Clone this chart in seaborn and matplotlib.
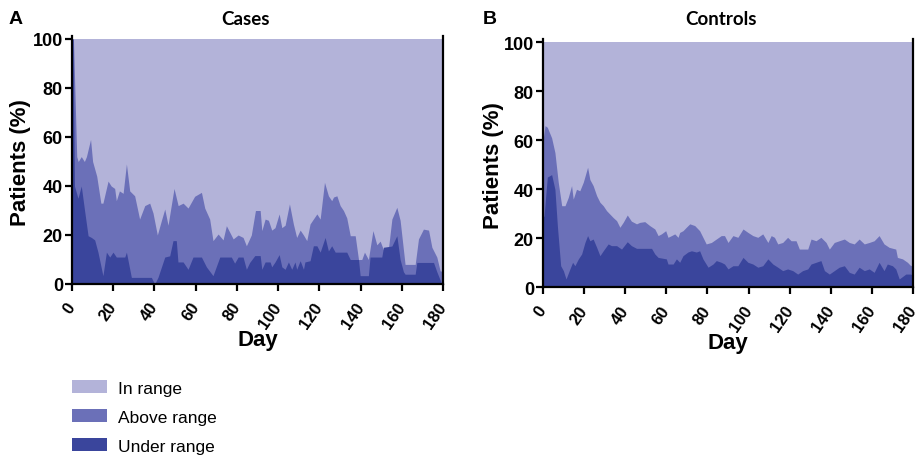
import matplotlib
matplotlib.use("Agg")
import matplotlib.pyplot as plt
import matplotlib.transforms as mtransforms
from matplotlib.patches import Patch
import seaborn as sns

sns.set_theme(style="ticks")
plt.rcParams['font.family'] = ['Liberation Sans', 'DejaVu Sans']
plt.rcParams['text.color'] = 'black'
plt.rcParams['axes.labelcolor'] = 'black'
plt.rcParams['xtick.color'] = 'black'
plt.rcParams['ytick.color'] = 'black'
plt.rcParams['xtick.labelcolor'] = 'black'
plt.rcParams['ytick.labelcolor'] = 'black'

# ---------------- data (percent of patients) ----------------
# Cases: upper edge of "Above range" band (= above + under)
cases_total_day = [0, 0.7, 2.3, 3, 4.5, 6, 7, 9, 10, 12, 14, 15, 17.5, 19, 20.7, 21.5, 23, 24.8,
                   26.4, 28, 30.4, 32.8, 35.3, 37.7, 39.3, 41.4, 43.4, 45, 46.6, 49.5, 51.5, 53.9,
                   56.3, 59.5, 62.8, 64.4, 66.8, 68.4, 70.9, 73.3, 74.9, 78.2, 80.6, 83, 84.6, 87,
                   88, 89, 91.3, 92.1, 93.7, 95.3, 96.9, 98.5, 100.5, 101.8, 103.4, 105.5, 107.4,
                   109, 110.7, 112.3, 113.9, 115.5, 117.1, 118.8, 120.4, 122.5, 124.4, 126, 126.9,
                   128.5, 130.1, 131.7, 133.3, 135, 137.4, 139, 140.6, 141.9, 143.8, 146, 147.9,
                   149.5, 151.1, 153.6, 155.2, 157.6, 159.2, 160.8, 161.6, 166.5, 168.1, 170.5,
                   173, 174.6, 177, 178.6, 180]
cases_total = [100, 100, 52, 50, 52, 50, 52, 59, 50, 44, 33, 33, 42, 40, 39, 34, 38, 37,
               49, 38, 36, 26.5, 32, 33, 29, 20, 26, 30.6, 24, 39, 32, 33,
               31, 35.8, 37.4, 31, 26.5, 17.7, 20.4, 18, 23.8, 18.4, 20, 19, 15.6, 20,
               25, 30, 30, 21.8, 26.5, 26, 22, 23, 28.6, 23, 24, 32.7, 24.5,
               19, 22, 20, 17.7, 24.5, 26.5, 28.6, 26.5, 41.5, 36, 34, 35.5,
               36, 32, 30, 27, 19.7, 19.7, 10, 10, 13, 10, 21.8, 16,
               17.5, 14, 15, 26.5, 31.3, 26, 14, 8, 8, 18.4, 22.4,
               22, 15, 11, 5.4, 5]
# Cases: "Under range"
cases_under_day = [0, 0.5, 1.2, 2.9, 4.5, 6.1, 7.8, 9.4, 11, 12.6, 15, 16.7, 18.3, 19.9, 21.5,
                   25.6, 26.4, 28.8, 38.5, 40.1, 41.7, 45, 47.4, 49, 50.6, 51.4, 53.9, 56.3, 58.7,
                   62.8, 65.2, 68.4, 71.7, 77.3, 78.9, 80.6, 83, 84.6, 86.2, 88.7, 91.3, 92.1,
                   93.7, 96.1, 96.9, 98.5, 100.5, 101.8, 103.4, 105, 106.6, 108.2, 109, 110.7,
                   112.3, 113, 115.5, 117.1, 118.8, 120.4, 122.8, 124.4, 126, 127.7, 133.3, 135,
                   139, 139.8, 143.8, 144.6, 150.3, 151.1, 155.2, 157.6, 159.2, 160.8, 161.6,
                   166.5, 167.3, 175.4, 177, 179.4, 180]
cases_under = [100, 100, 40, 35, 40, 30, 19.7, 19, 18, 13, 3.4, 13, 11, 13, 11,
               11, 13, 2.7, 2.7, 0, 2.7, 11, 11.5, 17.7, 17.7, 9, 9, 6, 11,
               11, 7, 3.4, 11, 11, 8.5, 11, 11, 6, 8.8, 11.6, 11.6, 6,
               9, 9, 7, 9, 12, 7, 6, 9, 6, 9, 6, 9.5,
               6, 9, 9.5, 15.6, 15.6, 13, 19, 13.5, 15.6, 13, 13, 10,
               10, 3.4, 3.4, 11, 11, 15, 15.5, 19.7, 10, 5, 4,
               4, 8.8, 8.8, 5, 0, 0]

# Controls: upper edge of "Above range" band
controls_total_day = [0, 1, 2.1, 4.2, 5.8, 7.4, 9.1, 10.7, 12.3, 13.9, 14.7, 16.3, 17.9, 19.6,
                      21.7, 22.8, 24.4, 26.1, 27.7, 29.3, 30.9, 32.5, 34.1, 35.8, 37.4, 39, 41,
                      43, 45.5, 47.1, 49.5, 51.9, 54.4, 56, 57.6, 59.7, 60.8, 62.5, 64.1, 65.7,
                      66.5, 68.1, 69.7, 71.4, 73.8, 76.2, 77.8, 79.4, 81.9, 84.3, 86.7, 88.3, 90,
                      92.4, 94.8, 97.3, 99.7, 102.1, 104.5, 106.9, 109.4, 111, 112.6, 114.2,
                      116.6, 119, 120.7, 123.1, 124.7, 128.8, 130.4, 132.8, 135.2, 137.7, 139.3,
                      141.7, 144.1, 146.6, 149, 151.4, 153.8, 156.3, 158.7, 161.1, 163.5, 165.9,
                      168.4, 171.6, 172.4, 174.9, 177.3, 178.9, 180]
controls_total = [60, 66, 65.3, 61, 55, 43, 33.3, 33.3, 36.7, 41.5, 36, 40, 39.4, 42.9,
                  49, 44, 41.5, 37.4, 34.7, 33.3, 31.3, 29.9, 28.5, 27.2, 24.5, 26.5, 29.5,
                  27, 25.9, 26.5, 26.8, 25.2, 23.8, 21.1, 21.8, 23.1, 20.4, 21.1, 21.8, 20.4,
                  22.4, 23.1, 24.5, 25.9, 25.2, 23.1, 20.4, 17.7, 18.3, 19.7, 21.1, 21.1, 18.3,
                  21.1, 20.4, 23.8, 22.4, 21.1, 20.4, 21.8, 18.3, 21.1, 20.4, 17.7,
                  18.3, 20.4, 19, 19, 15.6, 15.6, 19.7, 19, 20.4, 18.3, 15.6,
                  18.3, 19, 19.7, 18.3, 17.7, 19.7, 17.7, 18.3, 19, 21.1, 17.7,
                  16.3, 15.6, 12.2, 11.6, 10.2, 8.8, 9.5]
# Controls: "Under range"
controls_under_day = [0, 0.5, 2.1, 4.2, 5.8, 7, 8.6, 9.9, 11.2, 13.1, 14.4, 15.5, 17.2, 18.8,
                      20.4, 21.7, 22.8, 24.4, 26.1, 27.7, 29.3, 31.7, 33.3, 35.8, 38.2, 41, 43,
                      45.5, 52.8, 54.4, 56, 60, 60.8, 63.3, 64.9, 66.5, 68.1, 70.5, 72.2, 74.6,
                      76.2, 77.8, 80.3, 82.7, 84.3, 86.7, 88.3, 90, 92.4, 94.8, 97.3, 99.7, 102.1,
                      104.5, 106.9, 109.4, 111.8, 114.2, 116.6, 119, 121.5, 123.9, 126.3, 128.8,
                      130.4, 132.8, 135.2, 136.9, 139.3, 141.7, 144.1, 146.6, 149, 151.4, 153.8,
                      156.3, 158.7, 161.1, 163.5, 165.9, 167.5, 170, 171.6, 173.3, 176.5, 178.9,
                      180]
controls_under = [29, 29, 45, 46, 40, 25, 8.8, 6.8, 3.4, 7.5, 10.2, 8.8, 11.6, 13.6,
                  18.3, 21.1, 19, 19.7, 16.3, 12.9, 14.9, 17.7, 17, 17, 15.6, 18.6, 17,
                  15.9, 15.9, 13.6, 12.2, 11.6, 9.5, 9.5, 11.6, 10.2, 12.9, 14.4, 14.9, 14.4,
                  14.9, 11.6, 8.2, 9.5, 10.9, 10.2, 9.5, 7.5, 8.8, 8.8, 12.2, 10.2, 9.5,
                  8.2, 8.8, 11.6, 9.5, 8.2, 6.8, 7.5, 6.8, 5.4, 6.8, 7.5,
                  9.5, 10.2, 10.9, 6.8, 5.4, 6.8, 8.2, 8.8, 6.1, 5.4, 8.2,
                  6.8, 7.5, 6.1, 10.2, 6.8, 9.5, 8.8, 7.5, 3.4, 5.4, 5.4,
                  4.8]

x_ticks = [0, 20, 40, 60, 80, 100, 120, 140, 160, 180]
y_ticks = [0, 20, 40, 60, 80, 100]
series_labels = ["In range", "Above range", "Under range"]
panel_titles = ["Cases", "Controls"]
panel_letters = ["A", "B"]

COL_IN = "#b3b3d9"
COL_ABOVE = "#6b70b8"
COL_UNDER = "#3a459c"

W, H = 922, 460
fig = plt.figure(figsize=(W / 100, H / 100), dpi=100)

YMAX = 101.3


def axes_rect(x0, x1, y0_px, y100_px):
    top_px = y100_px - (YMAX - 100) * (y0_px - y100_px) / 100
    return [x0 / W, 1 - y0_px / H, (x1 - x0) / W, (y0_px - top_px) / H]


axA = fig.add_axes(axes_rect(72, 443, 285, 40))
axB = fig.add_axes(axes_rect(543, 913, 288.3, 43.3))

label_shift = mtransforms.ScaledTranslation(-6 / 100, 0, fig.dpi_scale_trans)


def draw(ax, td, tv, ud, uv, ylab_x):
    ax.fill_between([0, 180], [0, 0], [100, 100], color=COL_IN, lw=0)
    ax.fill_between(td, 0, tv, color=COL_ABOVE, lw=0)
    ax.fill_between(ud, 0, uv, color=COL_UNDER, lw=0)
    sns.despine(ax=ax, top=True, right=False)
    ax.set_xlim(0, 180)
    ax.set_ylim(0, YMAX)
    ax.set_xticks(x_ticks)
    ax.set_yticks(y_ticks)
    for s in ["left", "bottom", "right"]:
        ax.spines[s].set_color("black")
        ax.spines[s].set_linewidth(1.6)
    ax.tick_params(axis="both", direction="out", length=5, width=1.6, color="black",
                   labelcolor="black")
    ax.tick_params(axis="y", labelsize=13, pad=1.5)
    ax.tick_params(axis="x", labelsize=12, pad=6)
    for lbl in ax.get_yticklabels():
        lbl.set_fontweight("bold")
    for lbl in ax.get_xticklabels():
        lbl.set_fontweight("bold")
        lbl.set_rotation(55)
        lbl.set_ha("right")
        lbl.set_va("top")
        lbl.set_rotation_mode("anchor")
        lbl.set_transform(lbl.get_transform() + label_shift)
    ax.set_xlabel("Day", fontsize=16, fontweight="bold", labelpad=0, color="black")
    ax.set_ylabel("Patients (%)", fontsize=16, fontweight="bold", color="black")
    ax.yaxis.set_label_coords(ylab_x, 100 / YMAX / 2)
    ax.grid(False)


draw(axA, cases_total_day, cases_total, cases_under_day, cases_under, -0.11)
draw(axB, controls_total_day, controls_total, controls_under_day, controls_under, -0.105)

for ax in (axA, axB):
    ax.xaxis.set_label_coords(0.5, -0.18)
    ax.xaxis.label.set_va("top")

fig.text(246 / W, 1 - 25 / H, panel_titles[0], ha="center", va="baseline",
         fontsize=13.5, fontweight="bold", family=["Lato", "DejaVu Sans"])
fig.text(721 / W, 1 - 25 / H, panel_titles[1], ha="center", va="baseline",
         fontsize=13.5, fontweight="bold", family=["Lato", "DejaVu Sans"])
fig.text(9 / W, 1 - 24 / H, panel_letters[0], ha="left", va="baseline",
         fontsize=14, fontweight="bold")
fig.text(483 / W, 1 - 24 / H, panel_letters[1], ha="left", va="baseline",
         fontsize=14, fontweight="bold")

handles = [Patch(facecolor=c, edgecolor="none") for c in (COL_IN, COL_ABOVE, COL_UNDER)]
fig.legend(handles, series_labels, loc="upper left", bbox_to_anchor=(71.7 / W, 1 - 381 / H),
           frameon=False, fontsize=12.5, handlelength=2.05, handleheight=0.78,
           labelspacing=0.78, handletextpad=0.6, borderaxespad=0, borderpad=0,
           labelcolor="black")

fig.savefig("out.png", dpi=100)
